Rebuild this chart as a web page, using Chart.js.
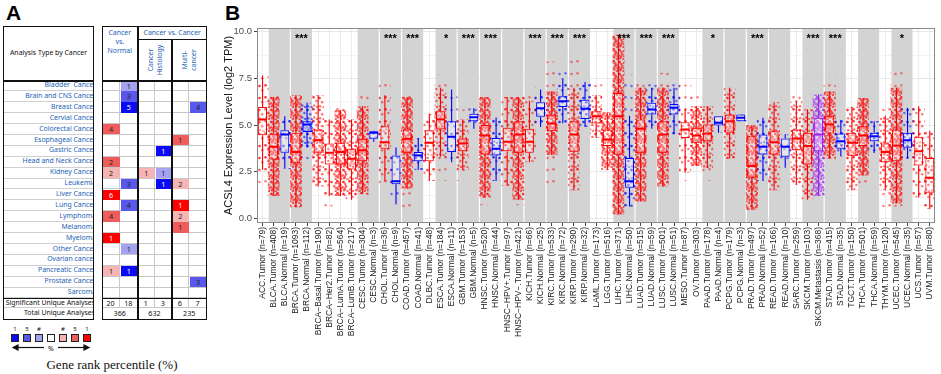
<!DOCTYPE html>
<html><head><meta charset="utf-8">
<script src="https://cdn.jsdelivr.net/npm/chart.js@4.4.1/dist/chart.umd.min.js"></script>
<style>
html,body{margin:0;padding:0;background:#fff;}
body{width:941px;height:374px;position:relative;overflow:hidden;}
.a{position:absolute;box-sizing:border-box;}
#pa{font-family:"Noto Sans",sans-serif;font-size:6.9px;white-space:nowrap;}
</style></head><body>
<div id="pa"></div>
<div class="a" style="left:225px;top:2px;font:bold 21px 'Liberation Sans',Arial,sans-serif;line-height:22px;">B</div>
<canvas id="c" width="731" height="374" style="position:absolute;left:210px;top:0;"></canvas>
<script>
// ---------------- Panel B data ----------------
const categories = ['ACC.Tumor (n=79)','BLCA.Tumor (n=408)','BLCA.Normal (n=19)','BRCA.Tumor (n=1093)','BRCA.Normal (n=112)','BRCA\u2212Basal.Tumor (n=190)','BRCA\u2212Her2.Tumor (n=82)','BRCA\u2212LumA.Tumor (n=564)','BRCA\u2212LumB.Tumor (n=217)','CESC.Tumor (n=304)','CESC.Normal (n=3)','CHOL.Tumor (n=36)','CHOL.Normal (n=9)','COAD.Tumor (n=457)','COAD.Normal (n=41)','DLBC.Tumor (n=48)','ESCA.Tumor (n=184)','ESCA.Normal (n=11)','GBM.Tumor (n=153)','GBM.Normal (n=5)','HNSC.Tumor (n=520)','HNSC.Normal (n=44)','HNSC\u2212HPV+.Tumor (n=97)','HNSC\u2212HPV\u2212.Tumor (n=421)','KICH.Tumor (n=66)','KICH.Normal (n=25)','KIRC.Tumor (n=533)','KIRC.Normal (n=72)','KIRP.Tumor (n=290)','KIRP.Normal (n=32)','LAML.Tumor (n=173)','LGG.Tumor (n=516)','LIHC.Tumor (n=371)','LIHC.Normal (n=50)','LUAD.Tumor (n=515)','LUAD.Normal (n=59)','LUSC.Tumor (n=501)','LUSC.Normal (n=51)','MESO.Tumor (n=87)','OV.Tumor (n=303)','PAAD.Tumor (n=178)','PAAD.Normal (n=4)','PCPG.Tumor (n=179)','PCPG.Normal (n=3)','PRAD.Tumor (n=497)','PRAD.Normal (n=52)','READ.Tumor (n=166)','READ.Normal (n=10)','SARC.Tumor (n=259)','SKCM.Tumor (n=103)','SKCM.Metastasis (n=368)','STAD.Tumor (n=415)','STAD.Normal (n=35)','TGCT.Tumor (n=150)','THCA.Tumor (n=501)','THCA.Normal (n=59)','THYM.Tumor (n=120)','UCEC.Tumor (n=545)','UCEC.Normal (n=35)','UCS.Tumor (n=57)','UVM.Tumor (n=80)'];
const sampleType = ['T','T','N','T','N','T','T','T','T','T','N','T','N','T','N','T','T','N','T','N','T','N','T','T','T','N','T','N','T','N','T','T','T','N','T','N','T','N','T','T','T','N','T','N','T','N','T','N','T','T','M','T','N','T','T','N','T','T','N','T','T'];
const sampleN = [79,408,19,1093,112,190,82,564,217,304,3,36,9,457,41,48,184,11,153,5,520,44,97,421,66,25,533,72,290,32,173,516,371,50,515,59,501,51,87,303,178,4,179,3,497,52,166,10,259,103,368,415,35,150,501,59,120,545,35,57,80];
const q1 =         [4.45,3.15,3.51,2.98,4.62,3.51,2.89,2.89,2.62,3.06,4.26,3.73,1.82,3.51,3.06,3.06,4.76,3.55,3.60,5.20,3.42,3.37,3.60,3.51,3.51,5.44,4.67,5.97,3.57,5.33,5.08,3.87,3.42,1.64,3.51,5.56,3.51,5.56,4.31,4.05,4.13,4.97,4.58,5.20,2.18,3.42,3.42,3.30,3.65,2.89,3.60,4.55,3.73,3.33,3.87,4.13,3.01,3.06,3.78,2.83,1.37];
const median =     [5.29,3.83,4.49,3.55,5.03,4.19,3.51,3.55,3.19,3.65,4.58,4.08,1.99,4.26,3.37,4.05,5.29,4.37,4.01,5.42,4.44,3.73,4.10,4.49,4.10,5.90,5.08,6.27,4.49,5.87,5.47,4.22,5.47,1.99,4.80,5.83,4.49,5.92,4.76,4.44,4.55,5.12,5.20,5.39,2.80,3.83,4.08,3.83,4.28,3.87,4.49,5.03,4.13,4.05,4.44,4.40,3.55,3.90,4.19,3.60,2.18];
const q3 =         [5.97,4.53,4.72,4.58,5.20,4.76,4.01,4.05,3.73,4.26,4.67,4.94,3.37,4.76,3.55,4.72,5.74,5.20,4.28,5.60,5.00,4.31,4.85,5.20,4.80,6.22,5.55,6.54,5.20,6.36,5.74,4.76,6.72,3.24,5.30,6.19,5.20,6.13,5.15,4.85,5.03,5.47,5.56,5.56,4.40,4.49,4.67,4.28,4.76,4.58,5.39,5.47,4.55,4.58,4.94,4.58,4.01,4.76,4.58,4.37,3.24];
const whiskerLow = [2.60,1.20,2.66,0.60,3.80,1.70,1.20,1.20,1.00,1.30,4.10,2.00,0.75,1.60,2.60,2.00,3.30,3.00,2.60,4.80,1.10,2.00,1.73,1.00,3.00,4.90,3.40,5.10,1.50,4.90,4.30,2.60,0.20,0.64,0.90,4.80,1.70,4.50,2.44,2.80,2.70,4.58,3.20,5.20,0.44,2.00,1.50,2.71,1.80,1.00,1.20,3.20,3.33,1.50,2.30,3.50,1.50,0.80,3.20,1.12,0.50];
const whiskerHigh= [7.65,6.50,5.47,6.60,6.19,6.60,5.30,5.80,5.30,6.00,4.70,6.60,3.80,6.50,4.30,5.60,7.00,6.90,5.30,5.90,6.50,5.40,6.50,6.50,6.30,6.90,6.80,7.50,7.00,7.30,6.60,5.68,9.84,5.50,7.00,7.00,7.00,7.00,5.83,6.00,6.00,5.47,7.00,5.56,5.00,5.39,6.22,4.50,6.30,5.83,6.63,6.80,5.26,5.97,6.45,5.20,5.50,7.00,5.92,6.00,4.70];
const pointMin =   [1.55,0.90,2.66,0.48,3.00,1.60,0.64,1.00,0.90,1.20,4.10,1.80,0.75,0.60,2.60,2.00,2.00,3.00,2.00,4.80,0.70,2.00,1.73,0.70,3.00,4.90,1.46,5.00,1.46,4.90,4.00,2.60,0.20,0.64,0.80,4.80,1.70,4.50,2.00,2.80,2.00,4.58,2.70,5.20,0.44,2.00,1.46,2.71,1.55,1.00,1.20,2.98,3.33,1.46,1.70,3.50,0.48,0.64,3.20,1.00,0.50];
const pointMax =   [7.65,6.95,5.47,6.70,6.20,6.67,5.30,6.36,5.50,7.00,4.70,7.65,3.80,6.70,4.30,5.60,7.70,6.90,5.83,5.90,6.50,5.40,6.50,6.50,7.00,7.05,8.40,8.30,8.77,7.43,7.20,5.68,9.84,7.70,7.50,7.40,7.80,7.43,7.16,6.70,6.00,5.47,7.04,5.56,5.00,5.50,6.22,4.50,7.04,5.83,6.63,7.70,5.26,5.97,6.45,5.20,6.00,8.18,5.92,6.00,4.70];
// shaded tumour/normal pairs (index of first category of each pair)
const shadedPairs = [1,3,9,11,13,16,18,20,22,24,26,28,32,34,36,40,42,44,46,49,51,54,57];
// significance marks (index of first category of pair, label)
const sigIndex = [3,11,13,16,18,20,24,26,28,32,34,36,40,44,49,51,57];
const sigLabel = ['***','***','***','*','***','***','***','***','***','***','***','***','*','***','***','***','*'];
const sigY = 9.7;
const yTickValues = [0,1.25,2.5,3.75,5,6.25,7.5,8.75,10];
const yMajor = [0,2.5,5,7.5,10];

// ---------------- Panel A data ----------------
const cancerTypes = ['Bladder&nbsp; Cancer','Brain and CNS Cancer','Breast Cancer','Cervial Cancer','Colorectal Cancer','Esophageal Cancer','Gastric Cancer','Head and Neck Cancer','Kidney Cancer','Leukemia','Liver Cancer','Lung Cancer','Lymphoma','Melanoma','Myeloma','Other Cancer','Ovarian cancer','Pancreatic Cancer','Prostate Cancer','Sarcoma'];
const cellRow   = [0,1,2,2,4,5,6,7,8,8,8,9,9,9,10,11,11,12,12,13,14,15,17,17,18];
const cellCol   = [1,1,1,5,0,4,3,0,0,2,3,1,3,4,0,1,4,0,4,4,0,1,0,1,5];
const cellCount = [1,3,5,4,4,1,1,2,2,1,1,3,1,2,6,4,1,4,2,1,1,1,1,1,3];
const cellShade = ['b10','b5','b1','b5','r5','r5','b1','r5','r10','r10','b10','b5','b1','r10','r1','b5','r1','r5','r10','r5','r1','b10','r10','b1','b5'];
const sigCounts = [20,18,1,3,6,7];
const totalCounts = [366,632,235];
const legendMarks = ['1','5','#','','#','5','1'];
const shadeColor = {r1:'#FF0000',r5:'#EE5C5C',r10:'#F6B4B4',b1:'#0A0AF5',b5:'#5858EC',b10:'#A3A3F2',w:'#FFFFFF'};
const legendShades = ['b1','b5','b10','w','r10','r5','r1'];

// ---------------- Panel A build ----------------
const pa = document.getElementById('pa');
function box(l,t,w,h,css,html){const d=document.createElement('div');d.className='a';d.style.cssText=`left:${l}px;top:${t}px;width:${w}px;height:${h}px;`+(css||'');if(html!==undefined)d.innerHTML=html;pa.appendChild(d);return d;}
box(6,2,30,24,"font:bold 21px 'Liberation Sans',Arial,sans-serif;line-height:22px;",'A');
const rowTop=80, rowH=10.9, nRows=cancerTypes.length, rowsEnd=rowTop+rowH*nRows;
const BLUE='#1d62b5';
// left table
box(3,26,91,54,'text-align:center;line-height:54px;color:#111;','Analysis Type by Cancer');
cancerTypes.forEach((nm,i)=>{
  box(3,rowTop+i*rowH,91,rowH+0.5,`border-bottom:1px solid #d0d0d0;overflow:hidden;text-align:right;line-height:${rowH}px;color:${BLUE};`,`<span style="margin-right:-2px">${nm}</span>`);
});
box(3,rowsEnd,91,10,'text-align:right;line-height:10px;color:#111;border-bottom:1px solid #d0d0d0;overflow:hidden;','<span style="margin-right:-1px">Significant Unique Analyses</span>');
box(3,rowsEnd+10,91,10,'text-align:right;line-height:10px;color:#111;overflow:hidden;','<span style="margin-right:-1px">Total Unique Analyses</span>');
box(3,80,91,1.5,'background:#111;');
box(3,rowsEnd-0.5,91,1.5,'background:#111;');
box(3,26,91,294,'border:1.5px solid #111;');
// right table
const colX=[102,120,137.5,155,171.5,189,207];
for(let i=0;i<nRows;i++){
  for(let c=0;c<6;c++){
    box(colX[c],rowTop+i*rowH,colX[c+1]-colX[c],rowH+0.5,'border-right:1px solid #c8c8c8;border-bottom:1px solid #c8c8c8;');
  }
}
for(let k=0;k<cellRow.length;k++){
  const c=cellCol[k], r=cellRow[k], sh=cellShade[k];
  const fg=(sh==='r1'||sh==='b1')?'#fff':'#222';
  box(colX[c]+0.5,rowTop+r*rowH+0.5,colX[c+1]-colX[c]-1,rowH-0.5,`background:${shadeColor[sh]};color:${fg};text-align:center;line-height:${rowH-0.5}px;font-size:7.2px;`,String(cellCount[k]));
}
sigCounts.forEach((v,c)=>box(colX[c],rowsEnd,colX[c+1]-colX[c],10,'text-align:center;line-height:10px;color:#111;font-size:7.2px;border-right:1px solid #c8c8c8;border-bottom:1px solid #c8c8c8;',String(v)));
totalCounts.forEach((v,g)=>box(colX[g*2],rowsEnd+10,colX[g*2+2]-colX[g*2],10,'text-align:center;line-height:10px;color:#111;font-size:7.2px;',String(v)));
// headers
box(102,27,35.5,53,`text-align:center;line-height:9px;color:${BLUE};padding-top:1px;`,'Cancer<br>vs.<br>Normal');
box(137.5,26,69.5,13,`text-align:center;line-height:13px;color:${BLUE};`,'Cancer vs. Cancer');
box(137.5,38.5,69.5,1,'background:#111;');
box(135,51,40,18,`text-align:center;line-height:9px;color:${BLUE};transform:rotate(-90deg);`,'Cancer<br>Histology');
box(169,51,40,18,`text-align:center;line-height:9px;color:${BLUE};transform:rotate(-90deg);`,'Multi-<br>cancer');
box(102,80,105,1.5,'background:#111;');
box(102,rowsEnd-0.5,105,1.5,'background:#111;');
box(136.5,26,2,294,'background:#111;');
box(170.5,38.5,2,281.5,'background:#111;');
box(102,26,105,294,'border:1.5px solid #111;');
// legend
const sqX=[11,23,35,47,59,71,83];
legendShades.forEach((s,i)=>{
  box(sqX[i],334,8,8,`background:${shadeColor[s]};border:1px solid #222;`);
  if(legendMarks[i]) box(sqX[i]-2,325,12,8,'text-align:center;line-height:8px;font-size:6px;color:#111;',legendMarks[i]);
});
box(0,342,100,12,'',`<svg width="100" height="12"><g stroke="#111" stroke-width="1.2" fill="#111"><line x1="16" y1="5.5" x2="44" y2="5.5"/><polygon points="13,5.5 18,3 18,8"/><line x1="58" y1="5.5" x2="86" y2="5.5"/><polygon points="89,5.5 84,3 84,8"/></g><text x="51" y="8.5" font-size="7" text-anchor="middle" fill="#111" stroke="none" font-family="Noto Sans">%</text></svg>`);
box(12,357,200,16,"font:13px 'Liberation Serif','Times New Roman',serif;text-align:center;line-height:16px;color:#111;",'Gene rank percentile (%)');

// ---------------- Panel B chart ----------------
const cv=document.getElementById('c');
const g2=cv.getContext('2d');
const typeRGB={T:[255,0,0],N:[0,0,255],M:[160,32,240]};
const solid=t=>`rgb(${typeRGB[t].join(',')})`;
// decorative dot texture (tile-local positions, not data) used to suggest jittered points
const dotTile=[[1.5,2],[7.5,1.2],[4.2,6.3],[10.4,5.1],[2.1,10.2],[8.3,9.4],[5.6,11.3],[11.2,11],[3.3,4],[9.1,3.4],[6.4,8.2],[0.7,7.3],[11.6,8.1],[6.1,3.2],[3.2,8.6],[8.8,6.6]];
const dotCount=[2,4,8,16];
const dotAlpha=[0.5,0.5,0.55,0.62];
const patterns={};
Object.keys(typeRGB).forEach(t=>{
  patterns[t]=dotCount.map((k,lvl)=>{
    const c=document.createElement('canvas');c.width=12;c.height=12;
    const g=c.getContext('2d');g.fillStyle=`rgba(${typeRGB[t].join(',')},${dotAlpha[lvl]})`;
    dotTile.slice(0,k).forEach(p=>{g.beginPath();g.arc(p[0],p[1],lvl===3?1.35:1.25,0,Math.PI*2);g.fill();});
    return g2.createPattern(c,'repeat');
  });
});
const coreLevel=n=>n>=300?3:n>=100?2:n>=30?1:0;
const boxLevel=n=>n>=100?3:n>=30?2:1;
const pairs=(a,b)=>categories.map((_,i)=>[a[i],b[i]]);
const catW=ctx=>ctx.chart.scales.x.width/categories.length;

const bandPlugin={id:'bands',beforeDatasetsDraw(chart){
  const {ctx,chartArea:ca,scales:{x}}=chart;
  const step=x.getPixelForValue(1)-x.getPixelForValue(0);
  ctx.save();ctx.fillStyle='#d3d3d3';
  shadedPairs.forEach(s=>{
    const x0=x.getPixelForValue(s)-step/2+0.6, x1=x.getPixelForValue(s+1)+step/2-0.6;
    ctx.fillRect(x0,ca.top,x1-x0,ca.bottom-ca.top);
  });
  ctx.restore();
}};
const sigPlugin={id:'sig',afterDatasetsDraw(chart){
  const {ctx,chartArea:ca,scales:{x,y}}=chart;
  ctx.save();ctx.fillStyle='#000';ctx.font="bold 11px 'Liberation Sans'";ctx.textAlign='center';ctx.textBaseline='middle';
  sigIndex.forEach((s,k)=>{
    const px=(x.getPixelForValue(s)+x.getPixelForValue(s+1))/2;
    ctx.fillText(sigLabel[k],px,y.getPixelForValue(sigY)+2);
  });
  ctx.strokeStyle='#8a8a8a';ctx.lineWidth=1;
  ctx.strokeRect(Math.round(ca.left)+0.5,Math.round(ca.top)+0.5,Math.round(ca.right-ca.left)-1,Math.round(ca.bottom-ca.top)-1);
  ctx.restore();
}};

Chart.defaults.font.family="'Liberation Sans', Arial, sans-serif";
new Chart(g2,{
  data:{labels:categories,datasets:[
    {type:'bar',data:categories.map((_,i)=>sampleN[i]>=15?[pointMin[i],pointMax[i]]:null),backgroundColor:c=>patterns[sampleType[c.dataIndex]][0],barPercentage:1.1,categoryPercentage:1,grouped:false,order:10},
    {type:'bar',data:pairs(whiskerLow,whiskerHigh),backgroundColor:c=>patterns[sampleType[c.dataIndex]][coreLevel(sampleN[c.dataIndex])],barPercentage:1.05,categoryPercentage:1,grouped:false,order:9},
    {type:'bar',data:pairs(q1,q3),backgroundColor:c=>patterns[sampleType[c.dataIndex]][boxLevel(sampleN[c.dataIndex])],barPercentage:1.05,categoryPercentage:1,grouped:false,order:8},
    {type:'bar',data:pairs(whiskerLow,q1),backgroundColor:c=>solid(sampleType[c.dataIndex]),barPercentage:0.1,categoryPercentage:1,grouped:false,order:7},
    {type:'bar',data:pairs(q3,whiskerHigh),backgroundColor:c=>solid(sampleType[c.dataIndex]),barPercentage:0.1,categoryPercentage:1,grouped:false,order:7},
    {type:'bar',data:pairs(q1,q3),backgroundColor:'rgba(255,255,255,0.42)',borderColor:c=>solid(sampleType[c.dataIndex]),borderWidth:1,borderSkipped:false,barPercentage:0.8,categoryPercentage:1,grouped:false,order:6},
    {type:'line',data:median,showLine:false,pointStyle:'line',pointRadius:c=>catW(c)*0.4,pointHoverRadius:c=>catW(c)*0.4,pointBorderWidth:2,pointBorderColor:c=>solid(sampleType[c.dataIndex]),order:5}
  ]},
  options:{
    responsive:false,animation:false,devicePixelRatio:1,
    layout:{padding:{left:10,top:28,right:2,bottom:0}},
    plugins:{legend:{display:false},tooltip:{enabled:false}},
    scales:{
      x:{type:'category',offset:true,
        grid:{offset:false,color:'#ebebeb',lineWidth:1,tickLength:3,tickColor:'#444'},
        border:{display:false},
        ticks:{autoSkip:false,minRotation:90,maxRotation:90,font:{size:8.5},color:'#222',padding:1},
        afterFit:s=>{s.height=151;}},
      y:{type:'linear',min:-0.25,max:10.2,
        afterBuildTicks:s=>{s.ticks=yTickValues.map(v=>({value:v}));},
        grid:{color:c=>(c.tick&&yMajor.includes(c.tick.value))?'#e8e8e8':'#f4f4f4',tickColor:c=>(c.tick&&yMajor.includes(c.tick.value))?'#444':'rgba(0,0,0,0)',tickLength:3},
        border:{display:false},
        ticks:{callback:v=>yMajor.includes(v)?v.toFixed(1):'',font:{size:9.5},color:'#4d4d4d',padding:2},
        title:{display:true,text:'ACSL4 Expression Level (log2 TPM)',font:{size:11},color:'#111',padding:{top:2,bottom:0}},
        afterFit:s=>{s.width=37;}}
    }
  },
  plugins:[bandPlugin,sigPlugin]
});
</script></body></html>
